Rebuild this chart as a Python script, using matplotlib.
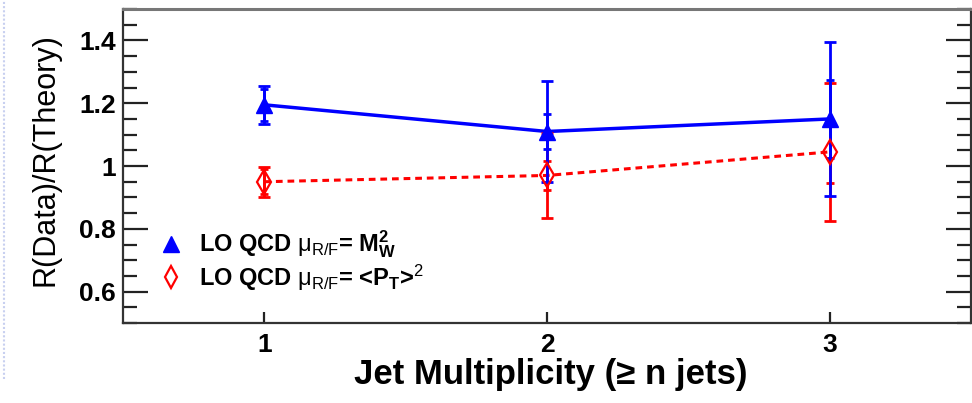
import matplotlib.pyplot as plt
from matplotlib.ticker import MultipleLocator
from matplotlib.lines import Line2D

plt.rcParams['font.family'] = ['Liberation Sans', 'DejaVu Sans']
plt.rcParams['mathtext.fontset'] = 'custom'
plt.rcParams['mathtext.rm'] = 'Liberation Sans'
plt.rcParams['mathtext.it'] = 'Liberation Sans'
plt.rcParams['mathtext.bf'] = 'Liberation Sans:bold'

# data
njets = [1, 2, 3]

mw_ratio = [1.195, 1.11, 1.15]
mw_stat = [0.05, 0.055, 0.125]
mw_tot = [0.06, 0.16, 0.245]

pt_ratio = [0.95, 0.97, 1.045]
pt_stat = [0.04, 0.045, 0.10]
pt_tot = [0.048, 0.135, 0.22]

xticks = [1, 2, 3]
yticks = [0.6, 0.8, 1.0, 1.2, 1.4]
yticklabels = ['0.6', '0.8', '1', '1.2', '1.4']

fig = plt.figure(figsize=(9.72, 4.03), dpi=100)
ax = fig.add_axes([0.1265, 0.1985, 0.8725, 0.779])

# lines
ax.plot(njets, mw_ratio, color='blue', lw=2.5, zorder=2)
ax.plot(njets, pt_ratio, color='red', lw=2.2, ls=(0, (2.2, 1.6)), zorder=2)

# total errors then stat errors (two sets of caps)
ax.errorbar(njets, pt_ratio, yerr=pt_tot, fmt='none', ecolor='red', elinewidth=2,
            capsize=4, capthick=2, zorder=3)
ax.errorbar(njets, pt_ratio, yerr=pt_stat, fmt='none', ecolor='red', elinewidth=2,
            capsize=3, capthick=2, zorder=3)
ax.errorbar(njets, mw_ratio, yerr=mw_tot, fmt='none', ecolor='blue', elinewidth=2,
            capsize=4, capthick=2, zorder=4)
ax.errorbar(njets, mw_ratio, yerr=mw_stat, fmt='none', ecolor='blue', elinewidth=2,
            capsize=3, capthick=2, zorder=4)

ax.plot(njets, mw_ratio, ls='none', marker='^', ms=11, color='blue', zorder=5)
ax.plot(njets, pt_ratio, ls='none', marker='d', ms=12, mfc='none', mec='red',
        mew=1.6, zorder=6)

ax.set_xlim(0.5, 3.5)
ax.set_ylim(0.5, 1.5)
ax.set_xticks(xticks)
ax.set_yticks(yticks)
ax.set_yticklabels(yticklabels)
ax.yaxis.set_minor_locator(MultipleLocator(0.05))

ax.tick_params(axis='y', which='both', direction='in', right=True, labelsize=19,
               pad=5, width=1.6, color='#222222')
ax.tick_params(axis='y', which='major', length=18)
ax.tick_params(axis='y', which='minor', length=10)
ax.tick_params(axis='x', direction='in', length=8, width=1.6, labelsize=19, pad=7,
               color='#222222')
for lab in ax.get_xticklabels() + ax.get_yticklabels():
    lab.set_fontweight('bold')

for s in ax.spines.values():
    s.set_linewidth(1.6)
    s.set_color('#333333')
ax.spines['top'].set_color('#777777')
ax.spines['top'].set_linewidth(2.2)

ax.set_ylabel('R(Data)/R(Theory)', fontsize=22)
ax.yaxis.set_label_coords(-0.074, 0.52)
ax.set_xlabel('Jet Multiplicity (≥ n jets)', fontsize=25, fontweight='bold')
ax.xaxis.set_label_coords(0.505, -0.112)

handles = [
    Line2D([], [], ls='none', marker='^', ms=11, color='blue'),
    Line2D([], [], ls='none', marker='d', ms=11, mfc='none', mec='red', mew=1.6),
]
labels = [
    r'LO QCD $\mathrm{\mu_{R/F}}$= $\mathbf{M_{W}^{2}}$',
    r'LO QCD $\mathrm{\mu_{R/F}}$= <$\mathbf{P_{T}}$>$^{2}$',
]
ax.legend(handles, labels, loc='upper left', bbox_to_anchor=(0.015, 0.368),
          frameon=False, prop={'weight': 'bold', 'size': 17},
          handletextpad=0.6, labelspacing=0.08, handlelength=1.2)

# faint slide residue at the left edge
fig.add_artist(Line2D([0.004, 0.004], [0.06, 1.0], color='#c8d0f0', lw=1.5,
                      ls=(0, (1, 1))))

fig.savefig('out.png', dpi=100)
